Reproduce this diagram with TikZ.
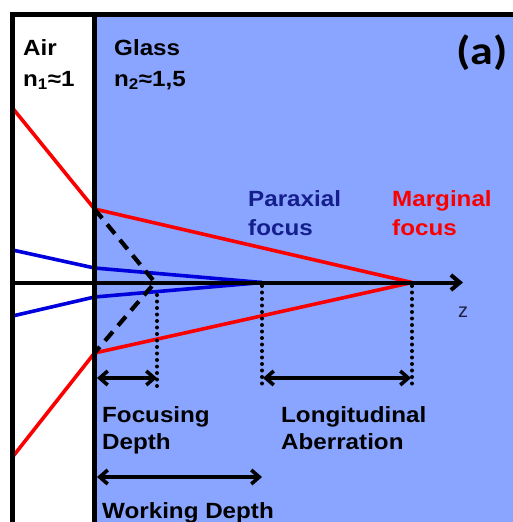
\documentclass[tikz,border=0pt]{standalone}
\usepackage{fontspec}
\setmainfont{Liberation Sans}
\newfontfamily\calibfont{Carlito}
\usetikzlibrary{arrows.meta}
\definecolor{glassblue}{RGB}{138,165,255}
\definecolor{rayred}{RGB}{250,0,0}
\definecolor{rayblue}{RGB}{0,0,220}
\definecolor{paraxblue}{RGB}{20,30,140}
\definecolor{zdark}{RGB}{30,30,70}
\newcommand{\hstretch}[1]{\scalebox{1.1}[1]{#1}}
\begin{document}
\begin{tikzpicture}[x=1pt,y=-1pt,
  ray/.style={line width=3.6pt},
  frameline/.style={line width=5pt},
  dimarrow/.style={line width=3.6pt,{Straight Barb[length=8pt,width=14pt]}-{Straight Barb[length=8pt,width=14pt]}},
  dotline/.style={line width=4pt,line cap=round,dash pattern=on 0pt off 6.5pt},
  dashline/.style={line width=4.2pt,dash pattern=on 12pt off 8pt},
  lbl/.style={anchor=base west,inner sep=0pt,font=\fontsize{22}{26}\selectfont\bfseries},
]
\useasboundingbox (0,0) rectangle (513,522);
\begin{scope}
\clip (0,0) rectangle (513,522);
\fill[glassblue] (94.5,14.5) rectangle (513,522);

% coordinates
\coordinate (rTl) at (12.5,108);
\coordinate (rTb) at (94.5,209);
\coordinate (rBl) at (12.5,457);
\coordinate (rBb) at (94.5,353);
\coordinate (bTl) at (12.5,250);
\coordinate (bTb) at (94.5,268);
\coordinate (bBl) at (12.5,316);
\coordinate (bBb) at (94.5,297);
\coordinate (mf) at (412,282.5);
\coordinate (pf) at (262,282.5);
\coordinate (apex) at (155,282.5);
\coordinate (axL) at (12.5,282.5);
\coordinate (axR) at (463,282.5);

% rays
\draw[ray,rayblue] (bTl) -- (bTb) -- (pf);
\draw[ray,rayblue] (bBl) -- (bBb) -- (pf);
\draw[ray,rayred] (rTl) -- (rTb) -- (mf);
\draw[ray,rayred] (rBl) -- (rBb) -- (mf);

% dashed V
\draw[dashline] (rTb) -- (apex) -- (rBb);

% axis
\draw[line width=4pt,-{Straight Barb[length=9pt,width=15pt]}] (axL) -- (axR);

% frame
\draw[frameline] (12.5,522) -- (12.5,14.5) -- (513,14.5);
\draw[frameline] (94.5,14.5) -- (94.5,522);

% dotted verticals
\coordinate (d1t) at (157,295);
\coordinate (d1b) at (157,388);
\coordinate (d2t) at (262,286);
\coordinate (d2b) at (262,388);
\coordinate (d3t) at (412,286);
\coordinate (d3b) at (412,388);
\draw[dotline] (d1t) -- (d1b);
\draw[dotline] (d2t) -- (d2b);
\draw[dotline] (d3t) -- (d3b);

% dimension arrows
\coordinate (fa) at (97,378);
\coordinate (fb) at (157,378);
\coordinate (la) at (263,378);
\coordinate (lb) at (411,378);
\coordinate (wa) at (97,477);
\coordinate (wb) at (262,477);
\draw[dimarrow] (fa) -- (fb);
\draw[dimarrow] (la) -- (lb);
\draw[dimarrow] (wa) -- (wb);

% labels
\node[lbl] (air1) at (23,55) {\hstretch{Air}};
\node[lbl] (air2) at (23,86) {\hstretch{n\textsubscript{1}≈1}};
\node[lbl] (gl1) at (114,55) {\hstretch{Glass}};
\node[lbl] (gl2) at (114,86) {\hstretch{n\textsubscript{2}≈1,5}};
\node[lbl,text=paraxblue] (px1) at (248,206) {\hstretch{Paraxial}};
\node[lbl,text=paraxblue] (px2) at (248,235) {\hstretch{focus}};
\node[lbl,text=rayred] (mg1) at (392,206) {\hstretch{Marginal}};
\node[lbl,text=rayred] (mg2) at (392,235) {\hstretch{focus}};
\node[anchor=base west,inner sep=0pt,font=\fontsize{20}{24}\selectfont,text=zdark] (zl) at (458,317) {z};
\node[lbl] (fd1) at (102,422) {\hstretch{Focusing}};
\node[lbl] (fd2) at (102,449) {\hstretch{Depth}};
\node[lbl] (la1) at (281,422) {\hstretch{Longitudinal}};
\node[lbl] (la2) at (281,449) {\hstretch{Aberration}};
\node[lbl] (wd) at (102,518) {\hstretch{Working Depth}};
\node[anchor=base west,inner sep=0pt,font=\calibfont\fontsize{40}{44}\selectfont\bfseries] (tag) at (456,64.5) {\scalebox{1.15}[1]{(a)}};
\end{scope}
\end{tikzpicture}
\end{document}
